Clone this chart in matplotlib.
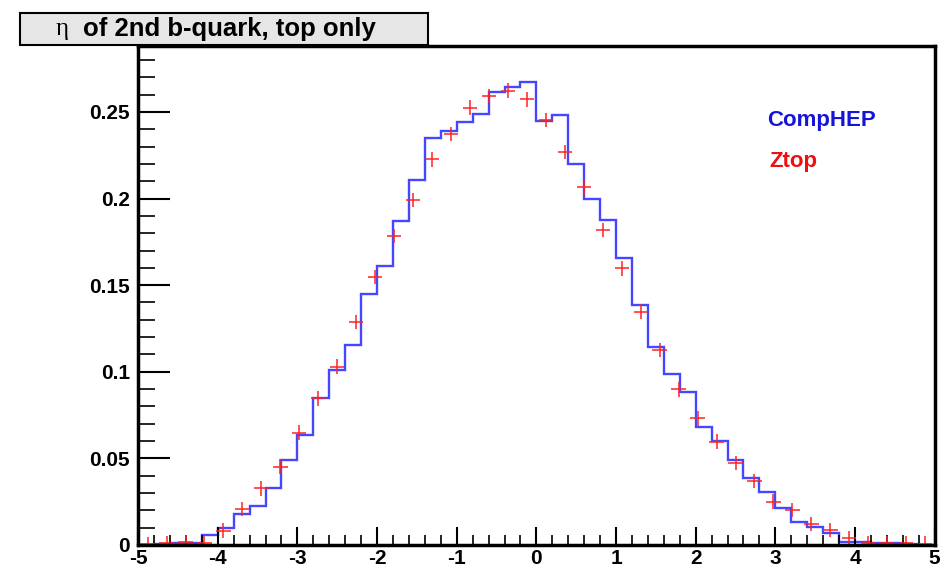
import numpy as np
import matplotlib.pyplot as plt
from matplotlib.patches import Rectangle
from matplotlib.ticker import MultipleLocator, FuncFormatter

plt.rcParams['font.family'] = ['Liberation Sans', 'DejaVu Sans']

# data: CompHEP histogram, 50 bins of 0.2 in eta
comphep_edges = np.linspace(-5, 5, 51)
comphep = [0.0, 0.0005, 0.001, 0.001, 0.006, 0.0096, 0.018, 0.0225, 0.033, 0.049,
           0.0635, 0.085, 0.101, 0.1155, 0.145, 0.161, 0.187, 0.211, 0.235, 0.239,
           0.244, 0.249, 0.2617, 0.2646, 0.2675, 0.245, 0.248, 0.220, 0.200, 0.1876,
           0.1655, 0.1386, 0.1145, 0.0987, 0.0885, 0.068, 0.060, 0.049, 0.0385, 0.0304,
           0.0216, 0.0131, 0.0106, 0.0067, 0.0015, 0.0015, 0.001, 0.001, 0.0005, 0.0]

# data: Ztop points, 42 bins
ztop_edges = np.linspace(-5, 5, 43)
ztop_centers = 0.5 * (ztop_edges[:-1] + ztop_edges[1:])
ztop = [0.0005, 0.001, 0.0015, 0.001, 0.0083, 0.0208, 0.0327, 0.0452, 0.0648, 0.0847,
        0.103, 0.1286, 0.1546, 0.1784, 0.1992, 0.2227, 0.2373, 0.2525, 0.2592, 0.2623,
        0.2573, 0.2454, 0.227, 0.2065, 0.1819, 0.1597, 0.1347, 0.1126, 0.0899, 0.0731,
        0.0597, 0.0472, 0.037, 0.025, 0.0202, 0.012, 0.0087, 0.0039, 0.001, 0.0012,
        0.001, 0.0008]

title = "of 2nd b-quark, top only"
labels = ["CompHEP", "Ztop"]

fig = plt.figure(figsize=(9.46, 5.70), dpi=100)
ax = fig.add_axes([0.146, 0.044, 0.842, 0.875])

ax.stairs(comphep, comphep_edges, color='#4646ff', linewidth=1.7)
ax.errorbar(ztop_centers, ztop, xerr=0.09, yerr=0.0042, fmt='none',
            ecolor='#ff2222', elinewidth=1.1)

ax.set_xlim(-5, 5)
ax.set_ylim(0, 0.288)

# ROOT-like axes
for s in ax.spines.values():
    s.set_linewidth(2.5)
ax.xaxis.set_major_locator(MultipleLocator(1))
ax.xaxis.set_minor_locator(MultipleLocator(0.2))
ax.yaxis.set_major_locator(MultipleLocator(0.05))
ax.yaxis.set_minor_locator(MultipleLocator(0.01))
ax.yaxis.set_major_formatter(FuncFormatter(lambda v, p: f"{v:g}"))
ax.xaxis.set_major_formatter(FuncFormatter(lambda v, p: f"{v:g}"))
ax.tick_params(axis='x', which='major', direction='in', length=13, width=1.5,
               top=False, labelsize=15, pad=3)
ax.tick_params(axis='x', which='minor', direction='in', length=7, width=1.2, top=False)
ax.tick_params(axis='y', which='major', direction='in', length=23, width=1.5,
               right=False, labelsize=15, pad=6)
ax.tick_params(axis='y', which='minor', direction='in', length=12, width=1.2, right=False)
for lab in ax.get_xticklabels() + ax.get_yticklabels():
    lab.set_fontweight('bold')

# legend texts
ax.text(0.79, 0.85, labels[0], transform=ax.transAxes, color='#1515d8',
        fontsize=16, fontweight='bold', va='center')
ax.text(0.793, 0.768, labels[1], transform=ax.transAxes, color='#ee1010',
        fontsize=16, fontweight='bold', va='center')

# title box
W, H = 946, 570
box = Rectangle((20 / W, 1 - 45 / H), 408 / W, 32 / H, transform=fig.transFigure,
                facecolor='#e6e6e6', edgecolor='black', linewidth=1.5, zorder=5)
fig.patches.append(box)
fig.text(56 / W, 1 - 29 / H, "η", family=['Liberation Serif', 'DejaVu Serif'],
         fontsize=18, va='center', ha='left', zorder=6)
fig.text(83 / W, 1 - 29 / H, title, fontsize=18.5, fontweight='bold',
         va='center', ha='left', zorder=6)

fig.savefig('out.png', dpi=100)
